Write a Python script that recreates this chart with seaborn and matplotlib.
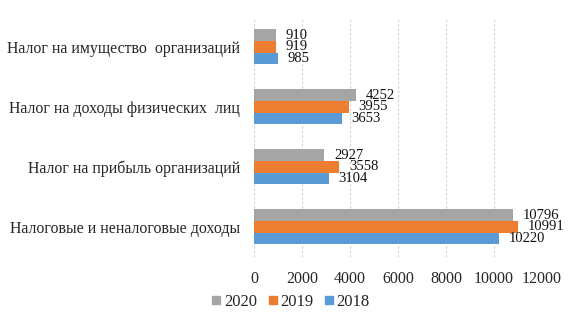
import matplotlib
matplotlib.use("Agg")
import matplotlib.pyplot as plt
import seaborn as sns
import pandas as pd
from matplotlib.lines import Line2D

categories = [
    "Налог на имущество  организаций",
    "Налог на доходы физических  лиц",
    "Налог на прибыль организаций",
    "Налоговые и неналоговые доходы",
]
years = ["2020", "2019", "2018"]
values_2020 = [910, 4252, 2927, 10796]
values_2019 = [919, 3955, 3558, 10991]
values_2018 = [985, 3653, 3104, 10220]
x_ticks = [0, 2000, 4000, 6000, 8000, 10000, 12000]
colors = {"2020": "#A5A5A5", "2019": "#ED7D31", "2018": "#5B9BD5"}

rows = []
for yr, vals in zip(years, [values_2020, values_2019, values_2018]):
    for c, v in zip(categories, vals):
        rows.append({"cat": c, "year": yr, "value": v})
df = pd.DataFrame(rows)

sns.set_theme(style="white")
plt.rcParams["font.family"] = ["Liberation Serif", "DejaVu Serif"]

fig = plt.figure(figsize=(5.76, 3.25), dpi=100)
ax = fig.add_axes([0.441, 0.21, 0.5, 0.738])
sns.barplot(data=df, y="cat", x="value", hue="year", order=categories,
            hue_order=years, palette=colors, width=0.58, orient="h",
            saturation=1, ax=ax, legend=False, errorbar=None, linewidth=0)

for cont in ax.containers:
    ax.bar_label(cont, padding=7, fontsize=10.5, color="#111111")

ax.set_xlim(0, 12000)
ax.set_ylim(3.5, -0.5)
ax.set_xticks(x_ticks)
ax.set_xticklabels([str(t) for t in x_ticks], fontsize=11.5)
ax.tick_params(axis="y", labelsize=11.4, length=0, pad=10)
ax.tick_params(axis="x", length=0, pad=10)
ax.set_xlabel("")
ax.set_ylabel("")
for s in ax.spines.values():
    s.set_visible(False)
ax.xaxis.grid(True, color="#D0D0D0", linestyle=(0, (2, 2)), linewidth=0.8)
ax.set_axisbelow(True)

handles = [Line2D([0], [0], marker="s", linestyle="none", markersize=6,
                  markerfacecolor=colors[y], markeredgecolor=colors[y]) for y in years]
fig.legend(handles, years, loc="center", bbox_to_anchor=(0.503, 0.07), ncol=3,
           frameon=False, fontsize=12, handletextpad=0.05, columnspacing=0.55,
           handlelength=0.8)

fig.savefig("out.png", dpi=100)
